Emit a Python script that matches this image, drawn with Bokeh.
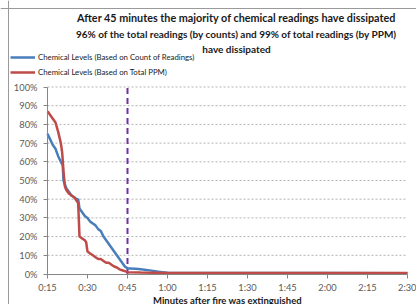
from bokeh.plotting import figure
from bokeh.models import (FixedTicker, PrintfTickFormatter, Label, Legend, LegendItem, Span, Range1d)
from bokeh.embed import file_html
from bokeh.resources import INLINE

# ---- data (minutes after fire extinguished, % remaining) ----
count_minutes = [15, 16, 17, 18, 19, 20, 20.7, 21, 22, 23, 24, 25, 26, 26.5, 27, 28, 29, 30, 31, 32, 33,
                 34, 35, 36, 37, 38, 39, 40, 41, 42, 43, 44, 45, 46, 48, 50, 52, 54, 56, 58, 60,
                 70, 90, 120, 150]
count_pct = [75, 72, 69, 67, 63, 60, 58, 50, 46, 44, 42, 41, 40, 40, 35, 33, 31, 30, 28, 27, 26,
             24, 23, 20, 18, 16, 14, 12, 10, 8, 6, 4, 3, 3, 2.8, 2.5, 2.2, 1.8, 1.3, 1.0, 0.7,
             0.6, 0.5, 0.5, 0.4]

ppm_minutes = [15, 16, 17, 18, 19, 20, 20.5, 21, 21.5, 22, 23, 24, 25, 26, 26.5, 27, 28, 29, 29.5, 30,
               31, 32, 33, 34, 35, 36, 37, 38, 39, 40, 41, 42, 43, 44, 45, 50, 60, 150]
ppm_pct = [87, 85, 83, 81, 76, 70, 65, 55, 47, 45, 43, 42, 41, 39, 38, 20, 19, 18, 17, 12,
           11, 10, 9, 8, 8, 7, 6, 6, 5, 4, 3.5, 2.5, 2, 1.5, 1, 0.8, 0.6, 0.5]

x_ticks = [15, 30, 45, 60, 75, 90, 105, 120, 135, 150]
x_tick_labels = ["0:15", "0:30", "0:45", "1:00", "1:15", "1:30", "1:45", "2:00", "2:15", "2:30"]
y_ticks = [0, 10, 20, 30, 40, 50, 60, 70, 80, 90, 100]
marker_minute = 45

title_lines = ["After 45 minutes the majority of chemical readings have dissipated",
               "96% of the total readings (by counts) and 99% of total readings (by PPM)",
               "have dissipated"]
series_names = ["Chemical Levels (Based on Count of Readings)", "Chemical Levels (Based on Total PPM)"]
series_colors = ["#4A7EBB", "#BE4B48"]
x_title = "Minutes after fire was extinguished"

FONT = "Lato"
W, H = 416, 304
# pixel layout of the plotting area inside the canvas
PX_L, PX_R, PX_TOP, PX_BOT = 47, 407, 86.5, 273.5
xmin, xmax = x_ticks[0], x_ticks[-1]
ymin, ymax = y_ticks[0], y_ticks[-1]
xs = (PX_R - PX_L) / (xmax - xmin)
ys = (PX_BOT - PX_TOP) / (ymax - ymin)
x_range = Range1d(xmin - PX_L / xs, xmax + (W - PX_R) / xs)
y_range = Range1d(ymin - (H - PX_BOT) / ys, ymax + PX_TOP / ys)

p = figure(width=W, height=H, output_backend="svg", toolbar_location=None,
           x_range=x_range, y_range=y_range,
           min_border_left=0, min_border_right=0, min_border_top=0, min_border_bottom=0)
p.outline_line_color = None
p.background_fill_color = "white"
p.xgrid.grid_line_color = None
p.ygrid.grid_line_color = None

# horizontal gridlines at the y ticks, spanning the time axis
p.segment(x0=[xmin] * len(y_ticks[1:]), y0=y_ticks[1:], x1=[xmax] * len(y_ticks[1:]), y1=y_ticks[1:],
          line_color="#b3b3b3", line_width=1, line_dash="2 2")

# 45-minute marker
p.segment(x0=[marker_minute], y0=[ymin], x1=[marker_minute], y1=[ymax],
          line_color="#7030A0", line_width=2, line_dash="6 4")

r_count = p.line(count_minutes, count_pct, line_color=series_colors[0], line_width=2.5)
r_ppm = p.line(ppm_minutes, ppm_pct, line_color=series_colors[1], line_width=2.5)

# axes fixed at the data origin
p.xaxis.fixed_location = ymin
p.yaxis.fixed_location = xmin
p.xaxis.bounds = (xmin, xmax)
p.yaxis.bounds = (ymin, ymax)
p.xaxis.ticker = FixedTicker(ticks=x_ticks)
p.xaxis.major_label_overrides = {t: l for t, l in zip(x_ticks, x_tick_labels)}
p.yaxis.ticker = FixedTicker(ticks=y_ticks)
p.yaxis.formatter = PrintfTickFormatter(format="%d%%")
for ax in (p.xaxis, p.yaxis):
    ax.axis_line_color = "#868686"
    ax.major_tick_line_color = "#868686"
    ax.minor_tick_line_color = None
    ax.major_label_text_font = FONT
    ax.major_label_text_font_size = "9.3px"
    ax.major_label_text_color = "#595959"
    ax.major_tick_out = 4
    ax.major_tick_in = 0
p.xaxis.major_label_standoff = 4
p.yaxis.major_label_standoff = 6
p.xaxis.axis_label = x_title
p.xaxis.axis_label_text_font = FONT
p.xaxis.axis_label_text_font_style = "bold"
p.xaxis.axis_label_text_font_size = "9.5px"
p.xaxis.axis_label_text_color = "#1a1a1a"
p.xaxis.axis_label_standoff = -2

# chart-area border (left and top edges)
p.add_layout(Span(location=x_range.start + 8 / xs, dimension="height", line_color="#9a9a9a", line_width=1))
p.add_layout(Span(location=y_range.end - 8 / ys, dimension="width", line_color="#9a9a9a", line_width=1))

# title lines (screen units from the canvas bottom-left)
title_px_y = [17, 33, 48]
title_sizes = ["10.8px", "10px", "10px"]
for txt, yy, fs in zip(title_lines, title_px_y, title_sizes):
    p.add_layout(Label(x=236, y=H - yy, x_units="screen", y_units="screen", text=txt,
                       text_font=FONT, text_font_style="bold", text_font_size=fs,
                       text_align="center", text_baseline="middle", text_color="#1a1a1a"))

legend = Legend(items=[LegendItem(label=series_names[0], renderers=[r_count]),
                       LegendItem(label=series_names[1], renderers=[r_ppm])],
                location=(10, H - 77), orientation="vertical",
                label_text_font=FONT, label_text_font_size="7.8px", label_text_color="#1a1a1a",
                glyph_width=25, glyph_height=10, label_height=10, label_standoff=3,
                spacing=5, padding=0, margin=0, border_line_color=None,
                background_fill_alpha=0)
p.add_layout(legend, "center")

open("out.html", "w").write(file_html(p, INLINE))
